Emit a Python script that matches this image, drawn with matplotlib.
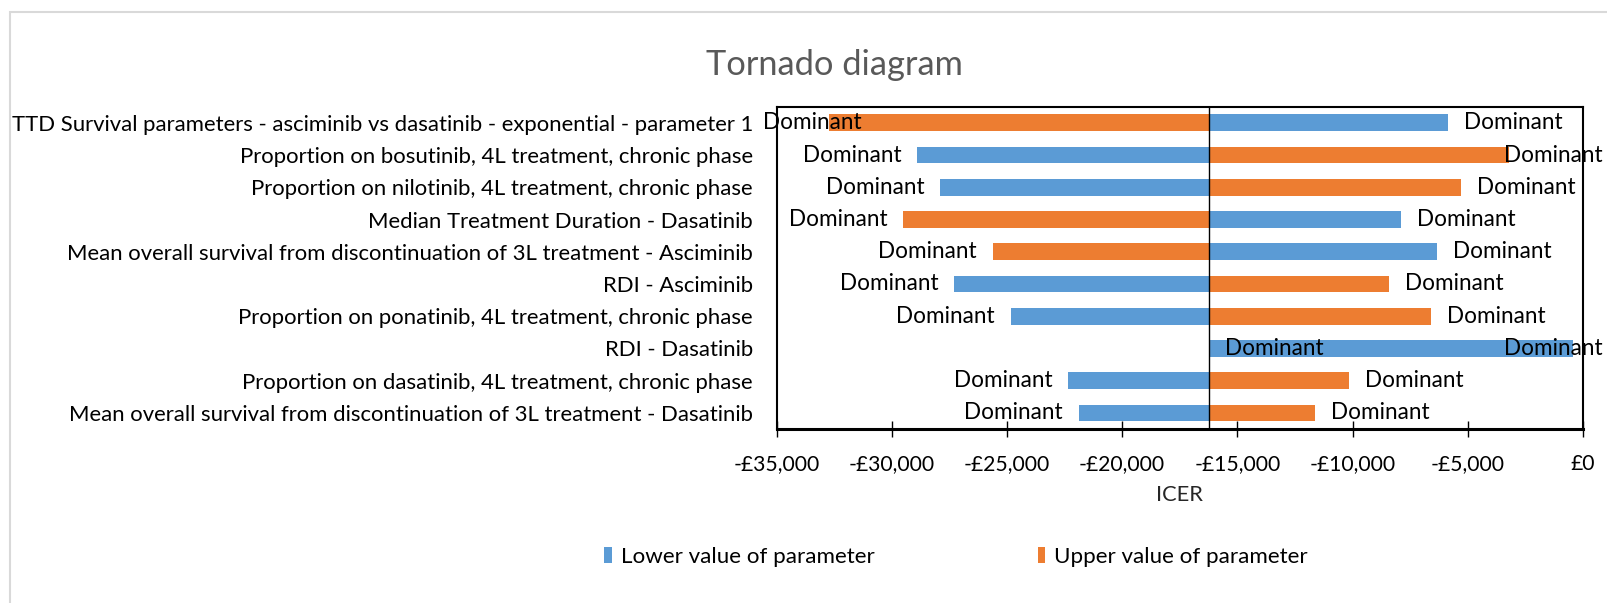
import numpy as np
import matplotlib
matplotlib.use("Agg")
import matplotlib.pyplot as plt
from matplotlib.patches import Rectangle, Patch
from matplotlib.ticker import FuncFormatter, FixedLocator
from matplotlib.textpath import TextPath
from matplotlib.font_manager import FontProperties

plt.rcParams['font.family'] = ['Lato', 'DejaVu Sans']

# ---- data -------------------------------------------------------------
categories = [
    "TTD Survival parameters - asciminib vs dasatinib - exponential - parameter 1",
    "Proportion on bosutinib, 4L treatment, chronic phase",
    "Proportion on nilotinib, 4L treatment, chronic phase",
    "Median Treatment Duration - Dasatinib",
    "Mean overall survival from discontinuation of 3L treatment - Asciminib",
    "RDI - Asciminib",
    "Proportion on ponatinib, 4L treatment, chronic phase",
    "RDI - Dasatinib",
    "Proportion on dasatinib, 4L treatment, chronic phase",
    "Mean overall survival from discontinuation of 3L treatment - Dasatinib",
]
base_icer = -16215
lower_icer = [-5870, -28890, -27890, -7910, -6320, -27280, -24840, -420, -22340, -21870]
upper_icer = [-32720, -3210, -5300, -29500, -25620, -8400, -6580, -16215, -10140, -11640]
lower_labels = ["Dominant"] * len(categories)
upper_labels = ["Dominant"] * len(categories)
x_ticks = [-35000, -30000, -25000, -20000, -15000, -10000, -5000, 0]
series_names = ["Lower value of parameter", "Upper value of parameter"]
chart_title = "Tornado diagram"
x_title = "ICER"

# ---- style ------------------------------------------------------------
BLUE = "#5B9BD5"
ORANGE = "#ED7D31"
W, H = 1607, 603
DPI = 100


def fit_size(text, width_px):
    """Font size (pt) at which `text` spans `width_px` pixels."""
    w = TextPath((0, 0), text, size=10, prop=FontProperties(family=plt.rcParams['font.family'])).get_extents().width
    return 10 * (width_px * 72 / DPI) / w


fmt_tick = lambda v, _: ("-£{:,.0f}".format(-v) if v < 0 else "£{:,.0f}".format(v))

FS_CAT = fit_size(categories[0], 738)
FS_LAB = fit_size("Dominant", 96)
FS_TICK = fit_size(fmt_tick(x_ticks[0], None), 84)
FS_LEG = fit_size(series_names[0], 251)
FS_TITLE = fit_size(chart_title, 254)
FS_XT = fit_size(x_title, 45)

fig = plt.figure(figsize=(W / DPI, H / DPI), dpi=DPI)
fig.patch.set_facecolor("white")

# light chart-area frame
fig.add_artist(Rectangle((10 / W, -0.5), 2.0, (1 - 12 / H) + 0.5,
                         transform=fig.transFigure, fill=False,
                         edgecolor="#d9d9d9", lw=1.5))

ax = fig.add_axes([776.5 / W, 1 - 429 / H, (1583 - 776.5) / W, (429 - 106.7) / H])

y = np.arange(len(categories))
lo = np.array(lower_icer, dtype=float)
up = np.array(upper_icer, dtype=float)
ax.barh(y, lo - base_icer, left=base_icer, height=0.52, color=BLUE, zorder=2)
ax.barh(y, up - base_icer, left=base_icer, height=0.52, color=ORANGE, zorder=2)
ax.axvline(base_icer, color="black", lw=1.0, zorder=3)

ax.set_xlim(x_ticks[0], x_ticks[-1])
ax.set_ylim(len(categories) - 0.5, -0.5)

ax.xaxis.set_major_locator(FixedLocator(x_ticks))
ax.xaxis.set_major_formatter(FuncFormatter(fmt_tick))
ax.set_yticks(y)
ax.set_yticklabels(categories)

ax.tick_params(axis="x", direction="inout", length=11.5, width=1.0,
               labelsize=FS_TICK, pad=12, colors="black")
ax.tick_params(axis="y", length=0, pad=17, labelsize=FS_CAT, colors="black")

for s in ax.spines.values():
    s.set_color("black")
    s.set_linewidth(1.5)
ax.spines["bottom"].set_linewidth(2.2)

ax.set_xlabel(x_title, fontsize=FS_XT, labelpad=8, color="#262626")

fig.text(834 / W, 1 - 65 / H, chart_title, ha="center", va="center",
         fontsize=FS_TITLE, color="#595959")

# ---- data labels (outside end, kept inside the chart area) ------------
fig.canvas.draw()
renderer = fig.canvas.get_renderer()
axbox = ax.get_window_extent(renderer)
px_per_unit = axbox.width / (x_ticks[-1] - x_ticks[0])
gap = 16 / px_per_unit
right_limit = axbox.x1 + 20
left_limit = axbox.x0 - 13.5

labels = []
for i in range(len(categories)):
    for val, txt in ((lo[i], lower_labels[i]), (up[i], upper_labels[i])):
        if val < base_icer:
            t = ax.text(val - gap, i, txt, ha="right", va="center",
                        fontsize=FS_LAB, color="black", zorder=4, clip_on=False)
        else:
            t = ax.text(val + gap, i, txt, ha="left", va="center",
                        fontsize=FS_LAB, color="black", zorder=4, clip_on=False)
        labels.append(t)

for t in labels:
    bb = t.get_window_extent(renderer)
    x0 = t.get_position()[0]
    if bb.x1 > right_limit:
        t.set_x(x0 - (bb.x1 - right_limit) / px_per_unit)
    elif bb.x0 < left_limit:
        t.set_x(x0 + (left_limit - bb.x0) / px_per_unit)

# ---- legend -----------------------------------------------------------
handles = [Patch(facecolor=BLUE, edgecolor="none"),
           Patch(facecolor=ORANGE, edgecolor="none")]
fig.legend(handles, series_names, loc="center",
           bbox_to_anchor=(956 / W, 1 - 557 / H), ncol=2, frameon=False,
           fontsize=FS_LEG, columnspacing=7.3, handletextpad=0.38,
           handlelength=0.34, handleheight=0.68, borderaxespad=0)

fig.savefig("out.png", dpi=DPI, facecolor="white")
